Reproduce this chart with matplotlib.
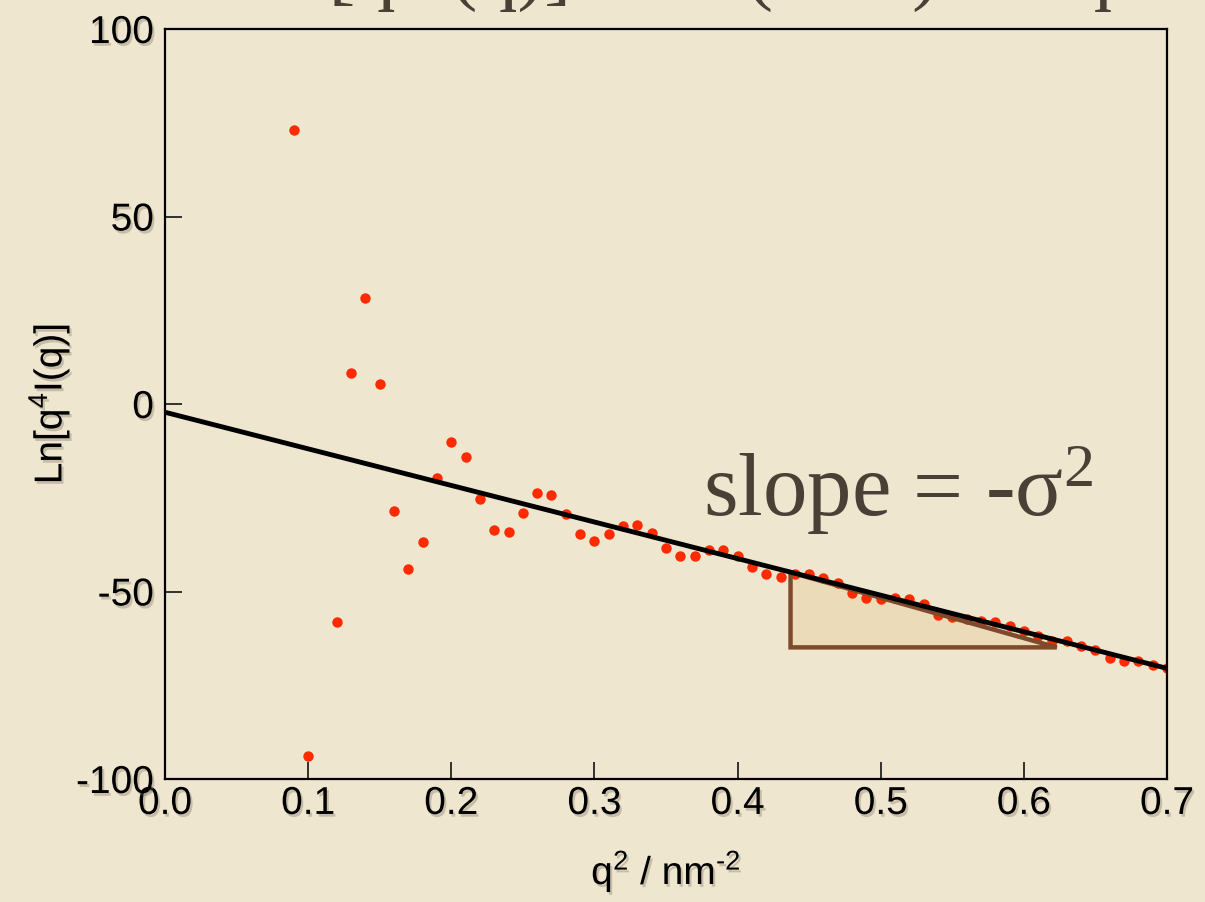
import matplotlib
matplotlib.use("Agg")
import matplotlib.pyplot as plt
import matplotlib.patheffects as pe
from matplotlib.patches import Polygon

# ---- data ----
q2 = [0.09, 0.10, 0.12, 0.13, 0.14, 0.15, 0.16, 0.17, 0.18, 0.19,
      0.20, 0.21, 0.22, 0.23, 0.24, 0.25, 0.26, 0.27, 0.28, 0.29,
      0.30, 0.31, 0.32, 0.33, 0.34, 0.35, 0.36, 0.37, 0.38, 0.39,
      0.40, 0.41, 0.42, 0.43, 0.44, 0.45, 0.46, 0.47, 0.48, 0.49,
      0.50, 0.51, 0.52, 0.53, 0.54, 0.55, 0.56, 0.57, 0.58, 0.59,
      0.60, 0.61, 0.62, 0.63, 0.64, 0.65, 0.66, 0.67, 0.68, 0.69, 0.70]
lnq4I = [73.1, -93.9, -58.1, 8.3, 28.4, 5.4, -28.5, -44.1, -36.9, -19.6,
         -10.0, -14.0, -25.2, -33.6, -34.2, -29.0, -23.8, -24.3, -29.3, -34.7,
         -36.4, -34.7, -32.4, -32.2, -34.4, -38.4, -40.4, -40.4, -39.0, -39.0,
         -40.4, -43.4, -45.2, -46.0, -45.2, -45.2, -46.5, -47.8, -50.5, -51.6,
         -52.1, -51.6, -52.1, -53.4, -56.2, -56.8, -57.3, -57.8, -58.2, -59.1,
         -60.4, -61.8, -63.3, -63.2, -64.4, -65.5, -67.6, -68.6, -68.5, -69.6, -70.5]
fit_x = [0.0, 0.7]
fit_y = [-2.2, -70.5]
tri_x = [0.437, 0.437, 0.623]
tri_y = [-44.9, -64.9, -64.9]
xticks = [0.0, 0.1, 0.2, 0.3, 0.4, 0.5, 0.6, 0.7]
yticks = [-100, -50, 0, 50, 100]

BG = '#efe6cf'
SANS = ['Liberation Sans', 'DejaVu Sans']
SERIF = ['Liberation Serif', 'DejaVu Serif']
plt.rcParams['font.family'] = SANS
plt.rcParams['mathtext.fontset'] = 'custom'
plt.rcParams['mathtext.rm'] = 'Liberation Sans'
plt.rcParams['mathtext.default'] = 'regular'

fig = plt.figure(figsize=(12.05, 9.03), dpi=100, facecolor=BG)
ax = fig.add_axes([165/1205, 123/903, 1002/1205, 750/903])
ax.set_facecolor('none')

shadow = [pe.withSimplePatchShadow(offset=(1.5, -2), shadow_rgbFace='#7a7060', alpha=0.35)]

tri = Polygon(list(zip(tri_x, tri_y)), closed=True, facecolor='#e8d3a8', alpha=0.55,
              edgecolor='none', zorder=1)
ax.add_patch(tri)
ax.plot(q2, lnq4I, 'o', color='#ff2a00', markersize=7.5, markeredgewidth=0, zorder=2)
tri_e = Polygon(list(zip(tri_x, tri_y)), closed=True, facecolor='none',
                edgecolor='#7e4a2b', linewidth=3.2, joinstyle='miter', zorder=4)
ax.add_patch(tri_e)
ax.plot(fit_x, fit_y, color='black', linewidth=3.5, solid_capstyle='butt', zorder=5)

ax.set_xlim(0, 0.7)
ax.set_ylim(-100, 100)
ax.set_xticks(xticks)
ax.set_xticklabels([f'{v:.1f}' for v in xticks])
ax.set_yticks(yticks)
ax.set_yticklabels([str(v) for v in yticks])
ax.tick_params(direction='in', length=12, width=1.1, labelsize=28, pad=5,
               top=False, right=False)
ax.tick_params(axis='y', pad=8)
for s in ax.spines.values():
    s.set_linewidth(1.6)
for lab in ax.get_xticklabels() + ax.get_yticklabels():
    lab.set_path_effects(shadow)

ax.set_xlabel(r'q$^2$ / nm$^{\text{-}2}$', fontsize=28, labelpad=19, path_effects=shadow)
ax.set_ylabel(r'Ln[q$^4$I(q)]', fontsize=28, labelpad=3, path_effects=shadow)

ax.text(0.376, -29.3, r'slope = -σ$^2$', family=SERIF, fontsize=64, color='#4b3f36',
        ha='left', va='baseline', zorder=6)

fig.text(239/1205, 1 + 4/903, 'Ln[q⁴I(q)] = Ln(2πK) −σ²q²', family=SERIF, fontsize=58,
         color='#4b3f36', ha='left', va='baseline')

fig.savefig('out.png', dpi=100, facecolor=BG)
